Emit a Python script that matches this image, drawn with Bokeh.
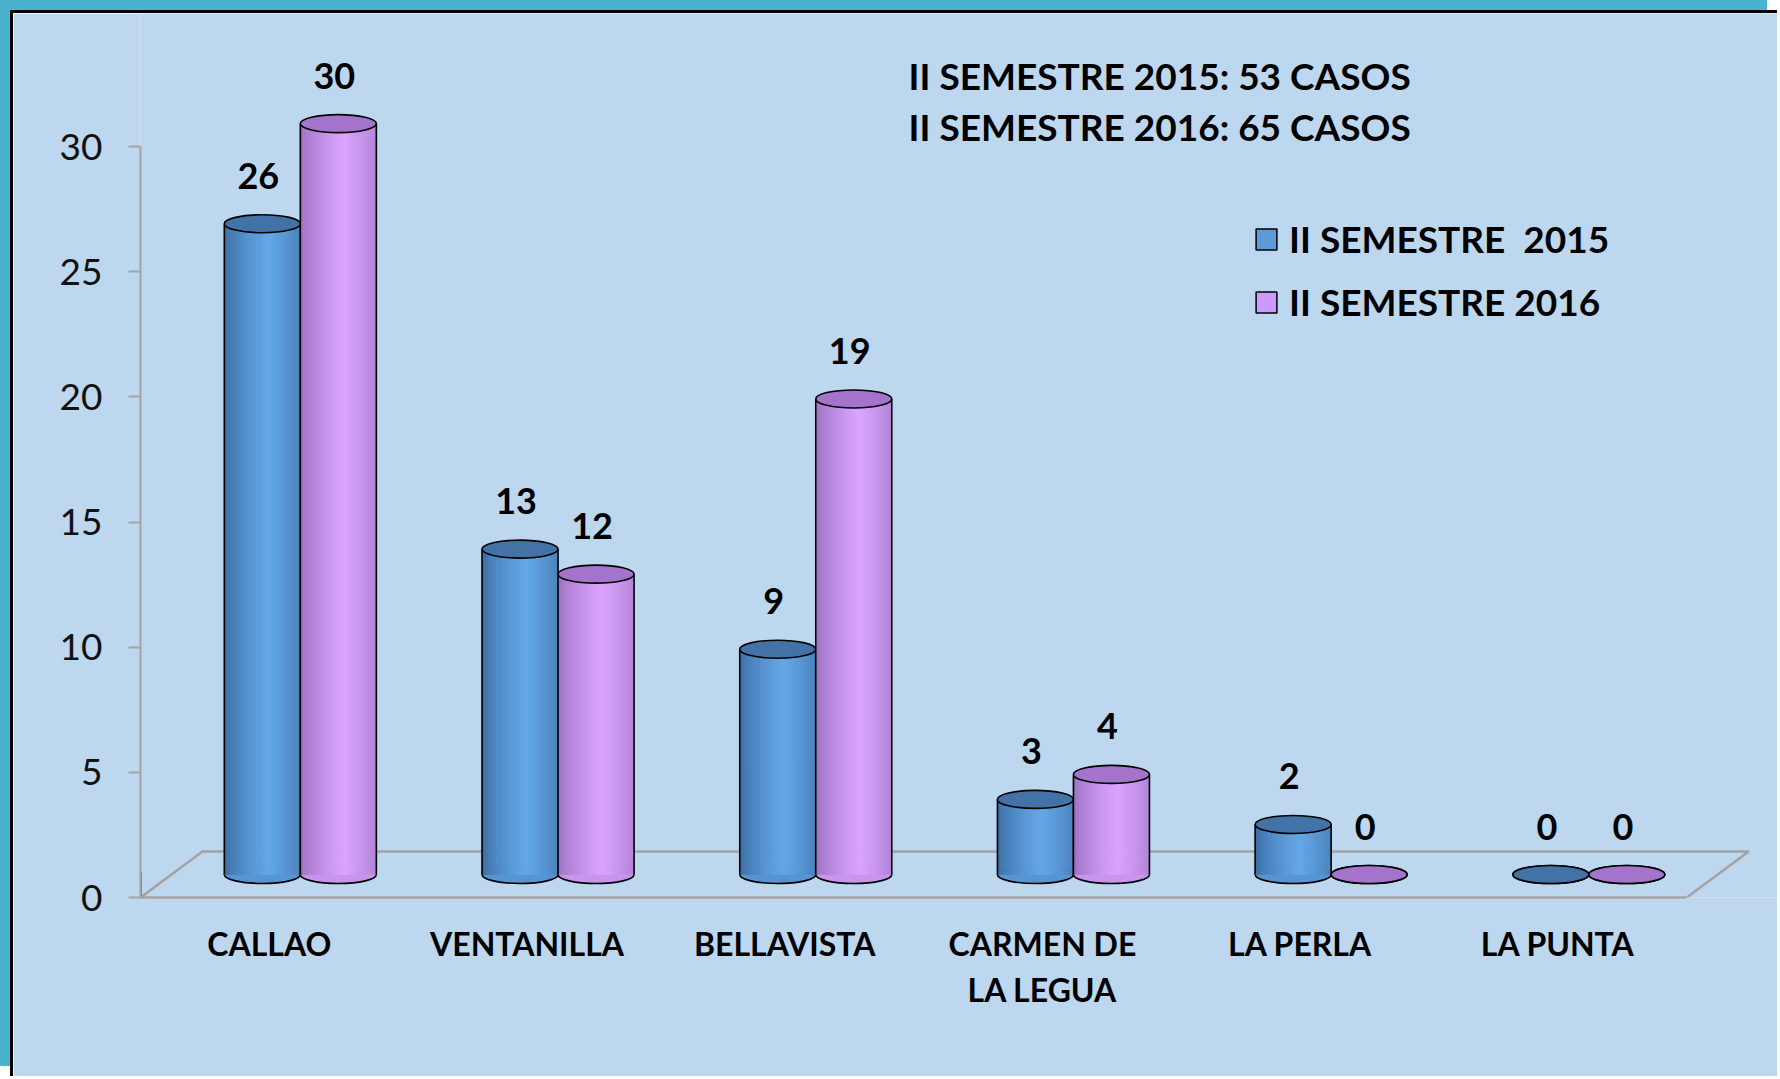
from bokeh.plotting import figure
from bokeh.models import ColumnDataSource, FixedTicker, Legend, LegendItem, Range1d
from bokeh.core.properties import value
from bokeh.embed import file_html
from bokeh.resources import INLINE

# ---------------- data ----------------
categories = ["CALLAO", "VENTANILLA", "BELLAVISTA", "CARMEN DE\nLA LEGUA", "LA PERLA", "LA PUNTA"]
sem2015 = [26, 13, 9, 3, 2, 0]
sem2016 = [30, 12, 19, 4, 0, 0]
series_names = ["II SEMESTRE  2015", "II SEMESTRE 2016"]
summary_lines = ["II SEMESTRE 2015: 53  CASOS", "II SEMESTRE 2016: 65  CASOS"]
y_ticks = [0, 5, 10, 15, 20, 25, 30]

# ---------------- layout / style ----------------
OFF = 13                     # page offset of the canvas (teal strip + black border)
W, H = 1780 - OFF, 1079 - OFF
FL, FB = 140 - OFF, 897 - OFF   # frame left, frame bottom (canvas px)
PX_X, PX_Y = 257.7, 25.03    # px per unit
DX_PX, DY_PX = 62, 46        # 3D depth offset of the floor
BAR_PX, ELL_PX = 76, 18
FONT_NAME = "Lato"
FONT = value(FONT_NAME)
BG = "#BDD7EE"
GRAY = "#A3A3A3"

n = len(categories)
dxu, dyu = DX_PX / PX_X, DY_PX / PX_Y
mx, my = dxu / 2, dyu / 2            # mid depth
bw = BAR_PX / PX_X
eh = ELL_PX / PX_Y

p = figure(width=W, height=H, output_backend="svg", toolbar_location=None, tools="",
           x_range=Range1d(-0.5, -0.5 + (W - FL) / PX_X),
           y_range=Range1d(0, FB / PX_Y),
           min_border_left=FL, min_border_right=0, min_border_top=0,
           min_border_bottom=H - FB,
           background_fill_color=BG, border_fill_color=BG, outline_line_color=None)
p.styles = {"margin-left": "10px", "margin-top": "10px",
            "border-left": "3px solid black", "border-top": "3px solid black",
            "box-shadow": "-10px -10px 0 0 #49B2CC"}
p.grid.visible = False

# y axis
ya = p.yaxis[0]
ya.ticker = FixedTicker(ticks=y_ticks)
ya.bounds = (y_ticks[0], y_ticks[-1])
ya.axis_line_color = GRAY
ya.axis_line_width = 2
ya.major_tick_line_color = GRAY
ya.major_tick_line_width = 2
ya.major_tick_out = 12
ya.major_tick_in = 0
ya.minor_tick_line_color = None
ya.major_label_standoff = 26
ya.major_label_text_font = FONT_NAME
ya.major_label_text_font_size = "37px"
ya.major_label_text_color = "#111111"

# x axis (categories)
xa = p.xaxis[0]
xa.ticker = FixedTicker(ticks=list(range(n)))
xa.major_label_overrides = {i: c for i, c in enumerate(categories)}
xa.bounds = (-0.5, n - 0.5)
xa.axis_line_color = GRAY
xa.axis_line_width = 2.5
xa.major_tick_line_color = None
xa.minor_tick_line_color = None
xa.major_tick_out = 0
xa.major_tick_in = 0
xa.major_label_standoff = 26
xa.major_label_text_font = FONT_NAME
xa.major_label_text_font_size = "32px"
xa.major_label_text_font_style = "bold"
xa.major_label_text_color = "black"
xa.major_label_text_line_height = 1.18

# floor (remaining three edges)
p.line(x=[-0.5, -0.5 + dxu, n - 0.5 + dxu, n - 0.5], y=[0, dyu, dyu, 0],
       line_color=GRAY, line_width=2.5)


def mix(c1, c2, f):
    a = [int(c1[i:i + 2], 16) for i in (1, 3, 5)]
    b = [int(c2[i:i + 2], 16) for i in (1, 3, 5)]
    return "#%02x%02x%02x" % tuple(int(round(a[k] + (b[k] - a[k]) * f)) for k in range(3))


def cylinders(values, shift, edge, peak, top_col):
    centers = [i + mx + shift for i in range(len(values))]
    N = 26
    xs, tops, bots, cols = [], [], [], []
    for c, v in zip(centers, values):
        for k in range(N):
            t = (k + 0.5) / N
            f = max(0.0, 1 - abs(t - 0.58) / 0.58) ** 0.7
            xs.append(c - bw / 2 + t * bw)
            tops.append(v + my)
            bots.append(my)
            cols.append(mix(edge, peak, f))
    mid = mix(edge, peak, 0.7)
    # bottom ellipse
    p.ellipse(x=centers, y=[my] * len(values), width=bw, height=eh,
              fill_color=mid, line_color="black", line_width=1.6)
    # shaded body
    src = ColumnDataSource(dict(x=xs, top=tops, bottom=bots, c=cols))
    p.vbar(x="x", top="top", bottom="bottom", width=bw / N * 1.04, source=src,
           fill_color="c", line_color="c", line_width=0.6)
    # sides
    p.segment(x0=[c - bw / 2 for c in centers], x1=[c - bw / 2 for c in centers],
              y0=[my] * len(values), y1=[v + my for v in values],
              line_color="black", line_width=1.6)
    p.segment(x0=[c + bw / 2 for c in centers], x1=[c + bw / 2 for c in centers],
              y0=[my] * len(values), y1=[v + my for v in values],
              line_color="black", line_width=1.6)
    # top ellipse
    p.ellipse(x=centers, y=[v + my for v in values], width=bw, height=eh,
              fill_color=top_col, line_color="black", line_width=1.6)
    # value labels
    p.text(x=[c - 4 / PX_X for c in centers], y=[v + my + 48 / PX_Y for v in values],
           text=[str(v) for v in values],
           text_font=FONT, text_font_size="36px", text_font_style="bold",
           text_color="black", text_align="center", text_baseline="middle")


cylinders(sem2015, -bw / 2, "#3A6AA0", "#64A8E8", "#4272A6")
cylinders(sem2016, bw / 2, "#9A6EBE", "#DBA4FF", "#A474CC")

# summary annotation
p.text(x=[-0.5 + (908 - 140) / PX_X] * 2,
       y=[(897 - 75) / PX_Y, (897 - 126) / PX_Y],
       text=summary_lines, text_font=FONT, text_font_size="37px", text_font_style="bold",
       text_color="black", text_align="left", text_baseline="middle")

# legend (swatch renderers sit outside the visible range)
r15 = p.vbar(x=[-50], top=[1], width=0.1, fill_color="#5B9BD5", line_color="black", line_width=1.5)
r16 = p.vbar(x=[-50], top=[1], width=0.1, fill_color="#CC99FF", line_color="black", line_width=1.5)
legend = Legend(items=[LegendItem(label=series_names[0], renderers=[r15]),
                       LegendItem(label=series_names[1], renderers=[r16])],
                location=(1253 - 140, 897 - 324), orientation="vertical",
                glyph_width=26, glyph_height=26, label_height=26, spacing=18,
                padding=0, margin=0, border_line_color=None, background_fill_alpha=0,
                label_text_font=FONT_NAME, label_text_font_size="37px",
                label_text_font_style="bold", label_text_color="black", label_standoff=10)
p.add_layout(legend)

open("out.html", "w").write(file_html(p, INLINE))
